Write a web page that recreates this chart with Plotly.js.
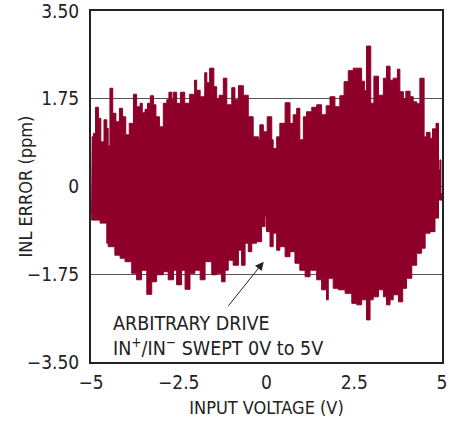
<!DOCTYPE html>
<html>
<head>
<meta charset="utf-8">
<script src="https://cdn.plot.ly/plotly-3.0.1.min.js"></script>
<style>html,body{margin:0;padding:0;background:#fff;}#chart{width:456px;height:421px;}</style>
</head>
<body>
<div id="chart"></div>
<script>
// Upper envelope of the INL error band (V, ppm)
var upperX = [-4.98,-4.93,-4.87,-4.79,-4.72,-4.63,-4.55,-4.51,-4.46,-4.38,-4.29,-4.19,-4.10,-4.01,-3.91,-3.79,-3.70,-3.60,-3.54,-3.46,-3.39,-3.31,-3.22,-3.15,-3.05,-2.94,-2.84,-2.78,-2.70,-2.66,-2.56,-2.45,-2.33,-2.19,-2.08,-2.05,-1.99,-1.89,-1.76,-1.70,-1.62,-1.50,-1.42,-1.35,-1.23,-1.13,-0.99,-0.90,-0.80,-0.66,-0.52,-0.38,-0.23,-0.19,-0.09,0.02,0.15,0.19,0.29,0.38,0.53,0.67,0.76,0.86,0.95,1.05,1.14,1.29,1.43,1.57,1.70,1.81,1.95,2.09,2.21,2.33,2.47,2.59,2.71,2.79,2.85,2.97,3.06,3.19,3.33,3.42,3.52,3.61,3.73,3.80,3.90,3.97,4.09,4.18,4.28,4.37,4.49,4.56,4.66,4.73,4.83,4.90,4.94,4.97,5.00];
var upperY = [0.99,1.06,1.58,1.36,0.89,1.33,1.16,0.81,1.96,1.46,1.29,1.56,1.39,1.03,1.26,1.84,1.59,1.66,1.47,1.54,1.66,1.81,1.63,1.39,1.19,1.66,1.73,1.88,1.73,1.88,1.66,1.88,1.66,1.84,1.79,2.12,1.92,1.79,2.27,2.07,2.36,1.99,1.75,1.82,2.16,1.63,1.97,1.73,2.01,1.82,1.39,0.99,0.93,1.23,1.09,1.39,0.93,0.76,0.99,1.26,1.67,1.26,1.43,1.56,0.93,1.39,1.49,1.58,1.63,1.43,1.61,1.79,1.59,1.81,2.09,2.31,2.36,2.36,2.10,1.91,2.80,1.66,2.20,1.82,2.16,2.40,2.12,2.16,2.34,1.89,1.75,1.90,1.79,1.69,1.65,2.16,0.99,1.08,0.96,1.15,1.26,0.33,0.53,-0.14,-0.14];
// Lower envelope of the INL error band (V, ppm)
var lowerX = [-5.00,-4.98,-4.89,-4.74,-4.55,-4.51,-4.32,-4.17,-4.03,-3.84,-3.70,-3.56,-3.41,-3.27,-3.13,-2.94,-2.80,-2.65,-2.56,-2.42,-2.32,-2.18,-2.04,-1.89,-1.75,-1.56,-1.42,-1.28,-1.18,-1.09,-0.95,-0.80,-0.71,-0.61,-0.52,-0.42,-0.28,-0.14,-0.04,0.00,0.10,0.19,0.29,0.38,0.53,0.67,0.81,0.95,1.10,1.24,1.43,1.57,1.71,1.76,1.90,2.05,2.24,2.43,2.57,2.71,2.85,2.95,3.04,3.19,3.33,3.42,3.52,3.61,3.76,3.88,3.99,4.14,4.28,4.42,4.52,4.66,4.80,4.90,4.94,5.00];
var lowerY = [-0.54,-0.54,-0.67,-0.67,-0.73,-1.13,-1.20,-1.37,-1.43,-1.50,-1.73,-1.86,-1.67,-2.15,-1.90,-1.76,-1.70,-1.86,-1.67,-1.96,-1.67,-2.05,-1.73,-1.67,-1.86,-1.50,-1.76,-1.73,-1.90,-1.67,-1.47,-1.57,-1.27,-1.57,-1.13,-1.30,-1.13,-1.10,-0.80,-0.60,-0.90,-1.20,-0.93,-1.27,-1.20,-1.40,-1.30,-1.53,-1.67,-1.80,-1.67,-1.86,-2.06,-2.26,-1.83,-2.03,-2.06,-2.13,-2.33,-2.36,-2.26,-2.66,-2.26,-2.20,-2.06,-2.20,-2.36,-2.26,-2.16,-2.30,-2.03,-1.83,-1.57,-1.33,-1.23,-0.93,-0.90,-0.63,-0.27,-0.27];

var xTickVals = [-5, -2.5, 0, 2.5, 5];
var xTickText = ['\u22125', '\u22122.5', '0', '2.5', '5'];
var yTickVals = [-3.5, -1.75, 0, 1.75, 3.5];
var yTickText = ['\u22123.50', '\u22121.75', '0', '1.75', '3.50'];

var bandX = upperX.concat(lowerX.slice().reverse());
var bandY = upperY.concat(lowerY.slice().reverse());

var RED = '#8e0029';
var INK = '#222';
var FONT = 'DejaVu Sans Condensed, Liberation Sans Narrow, sans-serif';

var trace = {
  x: bandX, y: bandY, type: 'scatter', mode: 'lines',
  fill: 'toself', fillcolor: RED,
  line: {color: RED, width: 1, shape: 'hv'},
  hoverinfo: 'skip', showlegend: false
};

var layout = {
  width: 456, height: 421,
  margin: {l: 91, r: 14, t: 11, b: 59},
  paper_bgcolor: '#fff', plot_bgcolor: '#fff',
  font: {family: FONT, size: 18, color: INK},
  showlegend: false,
  xaxis: {
    range: [-5, 5], tickmode: 'array', tickvals: xTickVals, ticktext: xTickText,
    showgrid: false, zeroline: false, ticks: '',
    showline: true, mirror: true, linecolor: INK, linewidth: 2,
    ticklabelstandoff: 2, ticklabeloverflow: 'allow',
    tickfont: {family: FONT, size: 19, color: INK},
    title: {text: 'INPUT VOLTAGE (V)', font: {family: FONT, size: 18, color: INK}, standoff: 10}
  },
  yaxis: {
    range: [-3.5, 3.5], tickmode: 'array', tickvals: yTickVals, ticktext: yTickText,
    showgrid: true, gridcolor: '#555', gridwidth: 1, zeroline: false, ticks: '',
    showline: true, mirror: true, linecolor: INK, linewidth: 2,
    ticklabelstandoff: 6, ticklabeloverflow: 'allow',
    tickfont: {family: FONT, size: 19, color: INK}
  },
  annotations: [
    {
      x: 0, y: 0.5, xref: 'paper', yref: 'paper', xanchor: 'center', yanchor: 'middle',
      xshift: -66, textangle: -90, showarrow: false,
      text: 'INL ERROR (ppm)',
      font: {family: FONT, size: 18, color: INK}
    },
    {
      x: -4.43, y: -2.98, xref: 'x', yref: 'y', xanchor: 'left', yanchor: 'middle',
      text: 'ARBITRARY DRIVE<br>IN<sup>+</sup>/IN<sup>\u2212</sup> SWEPT 0V to 5V',
      align: 'left', showarrow: false,
      font: {family: FONT, size: 19.5, color: INK}
    },
    {
      x: -0.08, y: -1.5, ax: -1.12, ay: -2.41, xref: 'x', yref: 'y', axref: 'x', ayref: 'y',
      showarrow: true, arrowhead: 2, arrowsize: 1.7, arrowwidth: 1, arrowcolor: INK, text: ''
    }
  ]
};

Plotly.newPlot('chart', [trace], layout, {displayModeBar: false, staticPlot: true});
</script>
</body>
</html>
